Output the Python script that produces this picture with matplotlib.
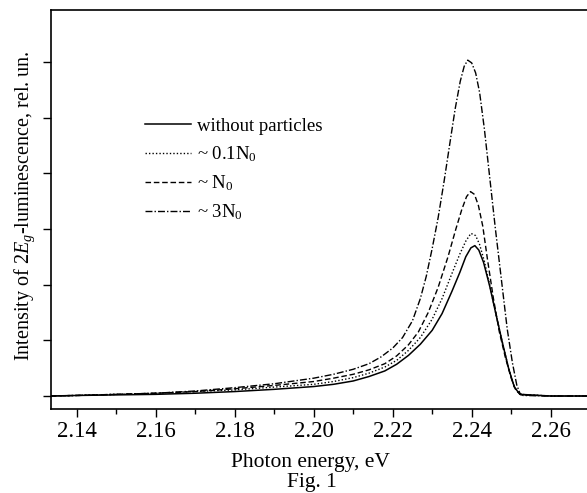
import matplotlib
matplotlib.use("Agg")
import matplotlib.pyplot as plt

# -------------------------
# Data (photon energy in eV, intensity in rel. un.)
# -------------------------
x_none = [2.1334, 2.14, 2.15, 2.16, 2.17, 2.18, 2.19, 2.20, 2.205, 2.21, 2.214, 2.218,
          2.221, 2.224, 2.227, 2.230, 2.2325, 2.235, 2.237, 2.2385, 2.2398, 2.2408,
          2.2418, 2.2430, 2.2446, 2.2462, 2.2478, 2.2494, 2.2508, 2.2522, 2.26, 2.2695]
y_none = [0.0, 0.01, 0.02, 0.03, 0.05, 0.08, 0.12, 0.17, 0.21, 0.27, 0.35, 0.45,
          0.57, 0.73, 0.93, 1.18, 1.48, 1.88, 2.22, 2.50, 2.66, 2.70,
          2.62, 2.40, 1.96, 1.45, 0.95, 0.48, 0.16, 0.03, 0.0, 0.0]

x_01 = [2.1334, 2.14, 2.15, 2.16, 2.17, 2.18, 2.19, 2.20, 2.205, 2.21, 2.214, 2.218,
        2.221, 2.224, 2.227, 2.230, 2.2325, 2.235, 2.237, 2.2385, 2.2398, 2.2410,
        2.2420, 2.2432, 2.2446, 2.2462, 2.2478, 2.2494, 2.2508, 2.2522, 2.26, 2.2695]
y_01 = [0.0, 0.01, 0.03, 0.05, 0.08, 0.11, 0.16, 0.21, 0.26, 0.33, 0.41, 0.52,
        0.64, 0.82, 1.05, 1.38, 1.75, 2.20, 2.55, 2.78, 2.92, 2.88,
        2.72, 2.42, 1.98, 1.45, 0.95, 0.48, 0.16, 0.03, 0.0, 0.0]

x_1 = [2.1334, 2.14, 2.15, 2.16, 2.17, 2.18, 2.19, 2.20, 2.205, 2.21, 2.214, 2.218,
       2.221, 2.224, 2.2265, 2.229, 2.2315, 2.234, 2.236, 2.2375, 2.2387, 2.2397,
       2.2407, 2.2417, 2.2428, 2.2440, 2.2455, 2.2470, 2.2485, 2.2500, 2.2512, 2.2525,
       2.26, 2.2695]
y_1 = [0.0, 0.01, 0.03, 0.05, 0.08, 0.13, 0.19, 0.26, 0.32, 0.39, 0.47, 0.58,
       0.72, 0.92, 1.15, 1.50, 1.95, 2.50, 3.00, 3.35, 3.58, 3.67,
       3.62, 3.42, 3.05, 2.45, 1.75, 1.15, 0.70, 0.32, 0.10, 0.02,
       0.0, 0.0]

x_3 = [2.1334, 2.14, 2.15, 2.16, 2.17, 2.18, 2.19, 2.20, 2.205, 2.21, 2.214, 2.217,
       2.220, 2.2225, 2.2250, 2.2270, 2.2285, 2.2300, 2.2315, 2.2330, 2.2345, 2.2358,
       2.2371, 2.2381, 2.2390, 2.2400, 2.2410, 2.2420, 2.2432, 2.2446, 2.2460, 2.2475,
       2.2490, 2.2503, 2.2514, 2.2522, 2.253, 2.26, 2.2695]
y_3 = [0.0, 0.01, 0.03, 0.05, 0.09, 0.15, 0.22, 0.32, 0.39, 0.48, 0.58, 0.70,
       0.86, 1.05, 1.35, 1.75, 2.15, 2.65, 3.20, 3.85, 4.55, 5.15,
       5.65, 5.92, 6.03, 5.98, 5.80, 5.45, 4.80, 3.90, 3.00, 2.10,
       1.20, 0.60, 0.20, 0.05, 0.01, 0.0, 0.0]

labels = ["without particles", "~ 0.1N$_0$", "~ N$_0$", "~ 3N$_0$"]
x_ticks = [2.14, 2.16, 2.18, 2.20, 2.22, 2.24, 2.26]
x_minor = [2.15, 2.17, 2.19, 2.21, 2.23, 2.25]
y_ticks = [0, 1, 2, 3, 4, 5, 6]

# -------------------------
# Fonts
# -------------------------
plt.rcParams['font.family'] = ['Liberation Serif', 'DejaVu Serif']
plt.rcParams['mathtext.fontset'] = 'custom'
plt.rcParams['mathtext.rm'] = 'Liberation Serif'
plt.rcParams['mathtext.it'] = 'Liberation Serif:italic'

fig = plt.figure(figsize=(5.87, 4.93), dpi=100)
ax = fig.add_axes([0.0864, 0.1704, 0.9136, 0.8093])

ax.plot(x_none, y_none, color="black", lw=1.1, ls="-", label=labels[0])
ax.plot(x_01, y_01, color="black", lw=1.0, ls=(0, (1, 1.5)), label=labels[1])
ax.plot(x_1, y_1, color="black", lw=1.0, ls=(0, (4, 2)), label=labels[2])
ax.plot(x_3, y_3, color="black", lw=1.0, ls=(0, (5, 1.5, 1, 1.5)), label=labels[3])

ax.set_xlim(2.13342, 2.26919)
ax.set_ylim(-0.233, 6.93)

ax.set_xticks(x_ticks)
ax.set_xticklabels([f"{t:.2f}" for t in x_ticks], fontsize=16.5)
ax.set_xticks(x_minor, minor=True)
ax.set_yticks(y_ticks)
ax.set_yticklabels([])
ax.tick_params(axis="both", which="major", direction="out", length=6, width=1)
ax.tick_params(axis="x", which="minor", direction="out", length=3.5, width=1)
ax.tick_params(axis="x", pad=3)

for side in ["left", "bottom", "top"]:
    ax.spines[side].set_linewidth(1.2)
ax.spines["right"].set_visible(False)

ax.set_ylabel("Intensity of 2$E_g$-luminescence, rel. un.", fontsize=14.5, va="center")
ax.yaxis.set_label_coords(-0.048, 0.51)

fig.text(310 / 587, 1 - 462 / 493, "Photon energy, eV", fontsize=15.5, ha="center", va="center")
fig.text(312 / 587, 1 - 483 / 493, "Fig. 1", fontsize=15.5, ha="center", va="center")

ax.legend(loc="upper left", bbox_to_anchor=(0.175, 0.73), frameon=False,
          fontsize=13.5, handlelength=2.5, handletextpad=0.3, labelspacing=0.5,
          borderpad=0, borderaxespad=0)

fig.savefig("out.png", dpi=100)
